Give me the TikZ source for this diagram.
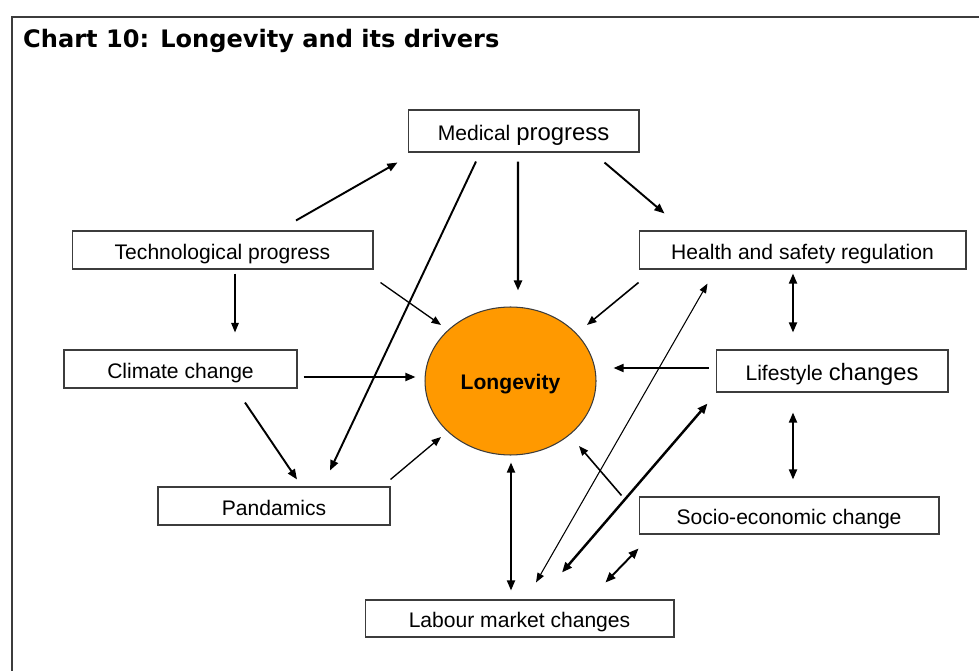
\documentclass[tikz,border=0pt]{standalone}
\usepackage{fontspec}
\setmainfont{Liberation Sans}
\newfontfamily\titlefont{DejaVu Sans}
\usetikzlibrary{shapes.geometric,arrows.meta}

\definecolor{lonOrange}{RGB}{255,153,0}
\definecolor{lineGray}{RGB}{60,60,60}

\tikzset{
  box/.style={draw=lineGray, line width=0.6pt, inner sep=0pt, minimum height=0.76cm,
    text height=10.5pt, text depth=0pt, font=\fontsize{12}{14}\selectfont},
  arr/.style={-{Triangle[length=5.8pt,width=4.6pt]}, line width=1.1pt},
  thinarr/.style={-{Triangle[length=5.4pt,width=4.2pt]}, line width=0.75pt},
  dblarr/.style={{Triangle[length=5.8pt,width=4.6pt]}-{Triangle[length=5.8pt,width=4.6pt]}, line width=1.1pt}
}

\begin{document}
\begin{tikzpicture}[x=0.02cm, y=-0.02cm]
  \useasboundingbox (0,0) rectangle (979,671);
  \draw[lineGray, line width=0.8pt] (12,671) -- (12,17) -- (979,17);
  \node[anchor=base west, font=\titlefont\bfseries\fontsize{13.7}{16}\selectfont] (title) at (17,48)
    {Chart 10: Longevity and its drivers};
  % Boxes
  \node[box, minimum width=4.62cm, minimum height=0.84cm] (med) at (523.5,131)
    {Medical {\fontsize{13.6}{16}\selectfont progress}};
  \node[box, minimum width=6.02cm] (tech) at (222.5,250) {Technological progress};
  \node[box, minimum width=6.54cm] (health) at (802.5,250) {Health and safety regulation};
  \node[box, minimum width=4.66cm] (climate) at (180.5,369) {Climate change};
  \node[box, minimum width=4.64cm, minimum height=0.84cm] (life) at (832,371)
    {Lifestyle {\fontsize{13.5}{16}\selectfont changes}};
  \node[box, minimum width=4.64cm] (pan) at (274,506) {Pandamics};
  \node[box, minimum width=6.0cm, minimum height=0.74cm] (socio) at (789,515.5) {Socio-economic change};
  \node[box, minimum width=6.18cm, minimum height=0.74cm] (labour) at (519.5,618.5) {Labour market changes};
  \node[ellipse, draw=lineGray, line width=0.6pt, fill=lonOrange, inner sep=0pt,
    text height=10pt, text depth=0pt,
    minimum width=3.42cm, minimum height=2.96cm, font=\bfseries\fontsize{12}{14}\selectfont] (lon) at (510.5,381) {Longevity};
  % Arrows from the top
  \draw[arr] ([shift={(73.5,-10)}]tech.north) -- ([shift={(-10,10)}]med.south west);
  \draw[arr] ([shift={(-47.5,9)}]med.south) -- ([shift={(56,-16)}]pan.north);
  \draw[arr, line width=1.4pt] ([shift={(-5.5,9)}]med.south) -- ([shift={(7.5,-16)}]lon.north);
  \draw[arr] ([shift={(-35,10)}]med.south east) -- ([shift={(26,-17)}]health.north west);
  \draw[thinarr] ([shift={(7,13)}]tech.south east) -- ([shift={(-69.5,-56)}]lon.center);
  \draw[thinarr, line width=0.9pt] ([shift={(0,13)}]health.south west) -- ([shift={(76.5,-56)}]lon.center);
  \draw[thinarr, line width=0.9pt] ([shift={(12.5,4)}]tech.south) -- ([shift={(54.5,-17)}]climate.north);
  % Arrows at the sides
  \draw[arr] ([shift={(6,8)}]climate.east) -- ([shift={(-9,-4)}]lon.west);
  \draw[arr] ([shift={(-7,-3)}]life.west) -- ([shift={(17,-13)}]lon.east);
  \draw[dblarr] ([shift={(-9.5,4)}]health.south) -- ([shift={(-39,-17)}]life.north);
  \draw[dblarr] ([shift={(-39,20)}]life.south) -- ([shift={(4,-17)}]socio.north);
  \draw[arr] ([shift={(64.5,14)}]climate.south) -- ([shift={(23,-7)}]pan.north);
  \draw[thinarr] ([shift={(0,-7)}]pan.north east) -- ([shift={(-69.5,56)}]lon.center);
  % Arrows at the bottom
  \draw[dblarr] ([shift={(0.5,7)}]lon.south) -- ([shift={(-8.5,-9)}]labour.north);
  \draw[thinarr, line width=0.9pt] ([shift={(-17,-1)}]socio.north west) -- ([shift={(68.5,65)}]lon.center);
  \draw[{Triangle[length=5.4pt,width=4pt]}-{Triangle[length=5.4pt,width=4pt]}, line width=0.6pt]
    ([shift={(16.5,-17)}]labour.north) -- ([shift={(69,14)}]health.south west);
  \draw[dblarr, line width=1.4pt] ([shift={(42.5,-27)}]labour.north) -- ([shift={(-8,11)}]life.south west);
  \draw[dblarr] ([shift={(-69,-17)}]labour.north east) -- ([shift={(0,14)}]socio.south west);
\end{tikzpicture}
\end{document}
